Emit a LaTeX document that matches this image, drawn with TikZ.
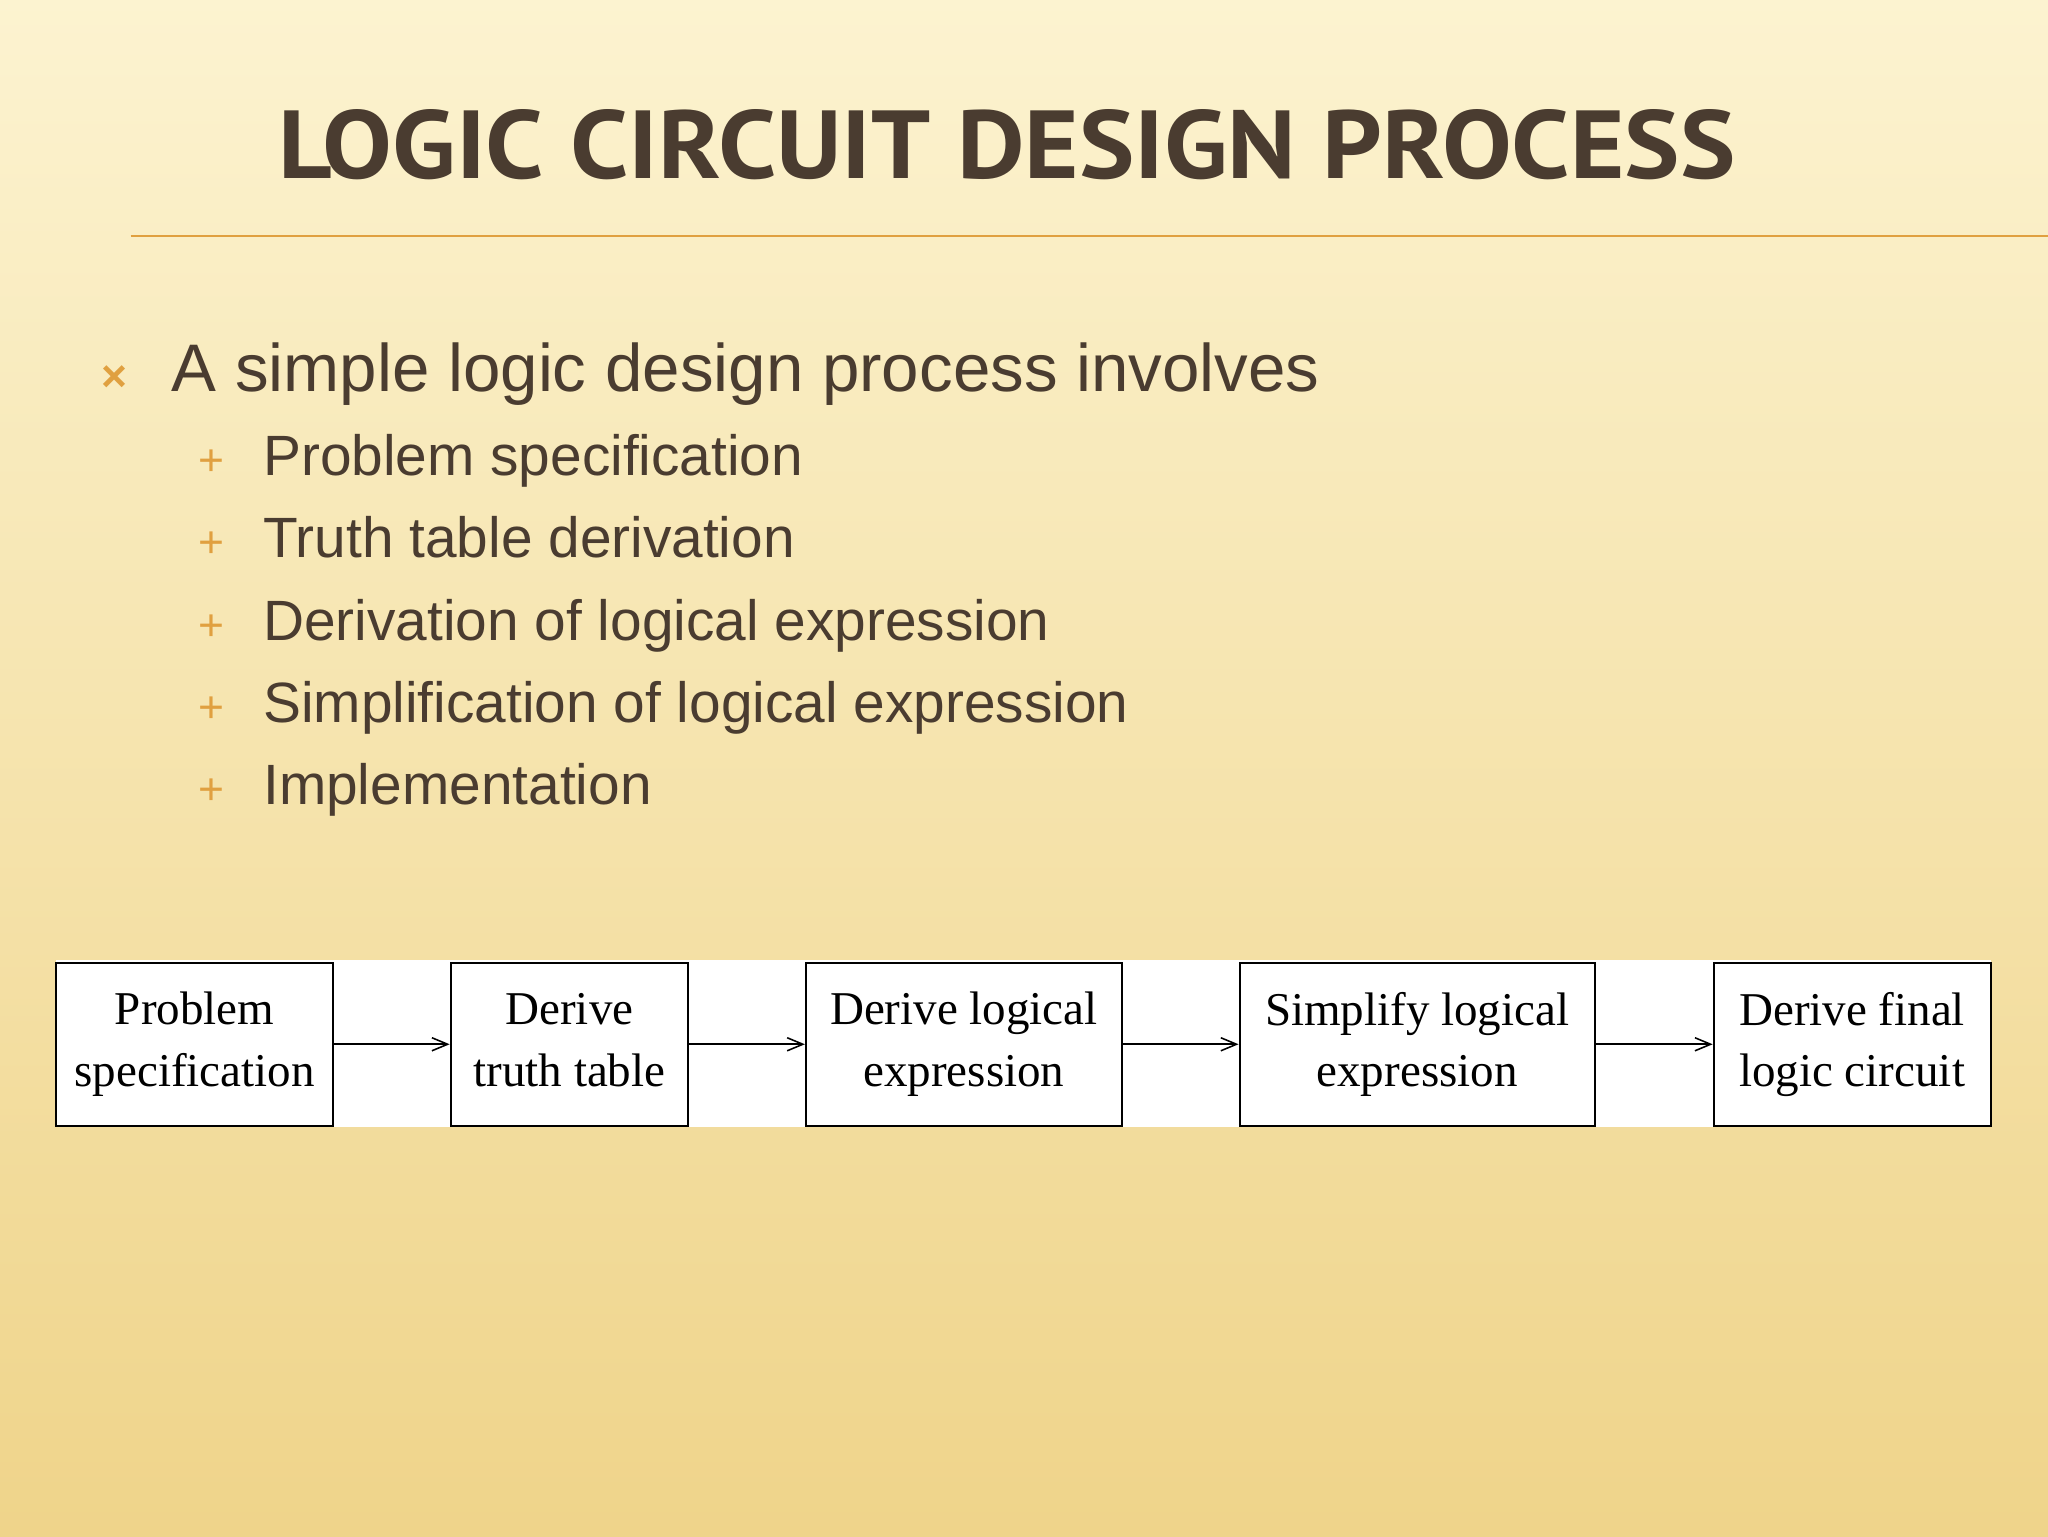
\documentclass[tikz,border=0pt]{standalone}
\usepackage{fontspec}
\setmainfont{Liberation Sans}
\newfontfamily\serifbox{Liberation Serif}
\newfontfamily\titlefont{PT Sans}
\usetikzlibrary{arrows.meta}
\definecolor{txt}{HTML}{4A3C30}
\definecolor{orn}{HTML}{E0A040}
\definecolor{bgtop}{HTML}{FCF3D0}
\definecolor{bgbot}{HTML}{EFD48A}
\newcommand{\bxs}{\vphantom{pl}}
\tikzset{
  stepbox/.style={draw=black, line width=1.5pt, fill=white, minimum height=125pt, inner sep=0pt, align=center, font=\serifbox\fontsize{36}{47}\selectfont},
  flow/.style={-{Straight Barb[length=12pt,width=10pt]}, line width=1.2pt},
  sub/.style={anchor=base west, text=txt, font=\fontsize{43.5}{50}\selectfont},
  plus/.style={anchor=base, text=orn, font=\fontsize{34}{40}\selectfont}
}
\begin{document}
\begin{tikzpicture}[x=1pt,y=-1pt]
\useasboundingbox (0,0) rectangle (1568,1176);
\shade[top color=bgtop, bottom color=bgbot] (0,0) rectangle (1568,1176);
\draw[orn, line width=1.5pt] (100,181) -- (1568,181);
\node[anchor=base, text=txt, font=\titlefont\bfseries\fontsize{74}{80}\selectfont] (title) at (771,137) {\addfontfeature{FakeStretch=1.08}LOGIC CIRCUIT DESIGN PROCESS};
\node[anchor=base, text=orn, font=\fontsize{34}{40}\selectfont\bfseries] (b0) at (88,300) {×};
\node[anchor=base west, text=txt, font=\fontsize{51.5}{56}\selectfont] (t0) at (128,300) {A simple logic design process involves};
\node[plus] (p1) at (162,364) {+}; \node[sub] (s1) at (198,364) {Problem specification};
\node[plus] (p2) at (162,427) {+}; \node[sub] (s2) at (198,427) {Truth table derivation};
\node[plus] (p3) at (162,490) {+}; \node[sub] (s3) at (198,490) {Derivation of logical expression};
\node[plus] (p4) at (162,553) {+}; \node[sub] (s4) at (198,553) {Simplification of logical expression};
\node[plus] (p5) at (162,616) {+}; \node[sub] (s5) at (198,616) {Implementation};
\fill[white] (43,735) rectangle (1524,863);
\node[stepbox, minimum width=212pt] (n1) at (149,799.5) {Problem\bxs\\specification\bxs};
\node[stepbox, minimum width=182pt] (n2) at (436,799.5) {Derive\bxs\\truth table\bxs};
\node[stepbox, minimum width=242pt] (n3) at (738,799.5) {Derive logical\bxs\\expression\bxs};
\node[stepbox, minimum width=272pt] (n4) at (1085,799.5) {Simplify logical\bxs\\expression\bxs};
\node[stepbox, minimum width=212pt] (n5) at (1418,799.5) {Derive final\bxs\\logic circuit\bxs};
\draw[flow] (n1) -- (n2);
\draw[flow] (n2) -- (n3);
\draw[flow] (n3) -- (n4);
\draw[flow] (n4) -- (n5);
\end{tikzpicture}
\end{document}
